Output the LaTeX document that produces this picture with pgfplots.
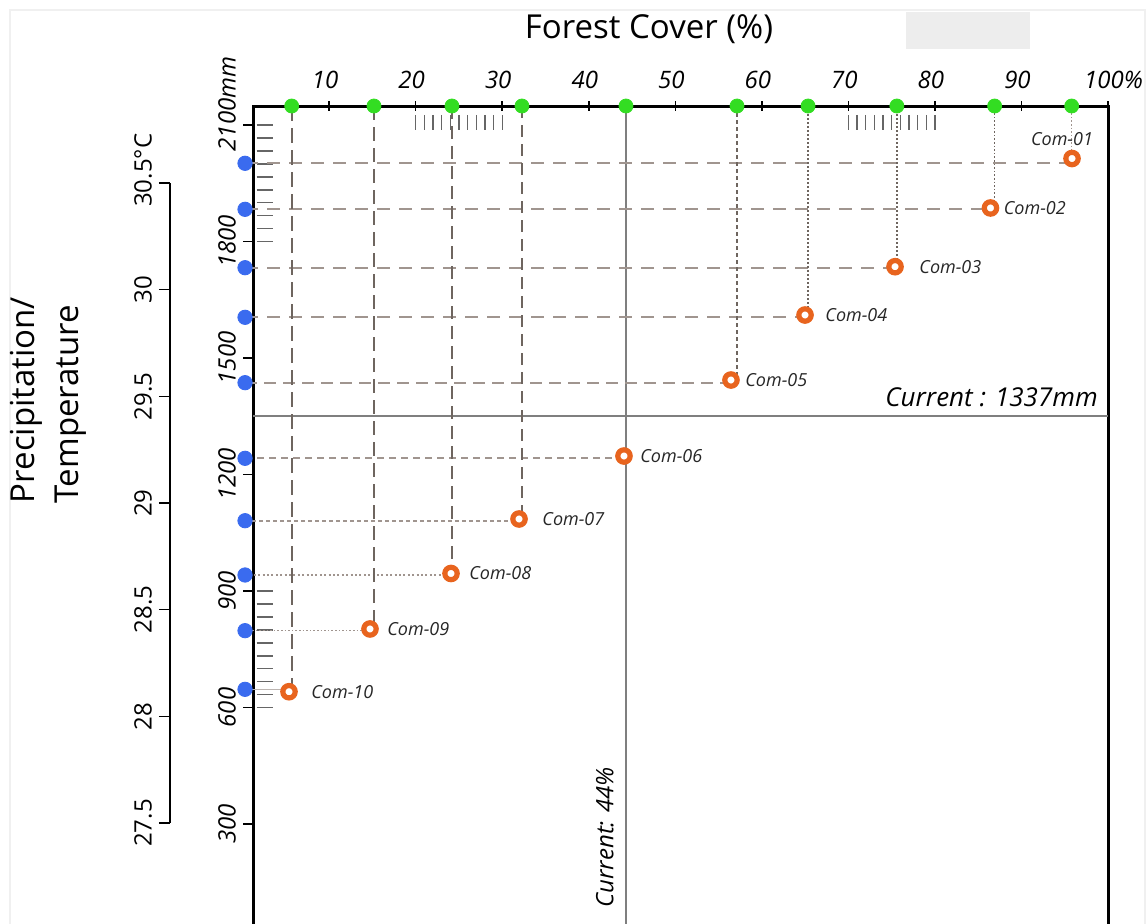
\documentclass[border=0pt]{standalone}
\usepackage{pgfplots}
\pgfplotsset{compat=1.18}
\usepackage{fontspec}
\setmainfont{Open Sans}
\definecolor{cgreen}{HTML}{33DD22}
\definecolor{cblue}{HTML}{3A6BEF}
\definecolor{corange}{HTML}{E8641E}
\definecolor{hgray}{HTML}{A0958F}
\definecolor{vgray}{HTML}{6E655F}
\definecolor{cgray}{HTML}{7F7F7F}
\definecolor{hashgray}{HTML}{666666}

\begin{document}
\begin{tikzpicture}
% faint outer frame and grey patch
\draw[gray!12, line width=0.6pt] (5pt,-480pt) -- (5pt,-5pt) -- (572.5pt,-5pt) -- (572.5pt,-480pt);
\fill[gray!14] (453pt,-6pt) rectangle (515pt,-24.5pt);
\node[font=\fontsize{16.5}{19}\selectfont] at (324.5pt,-14.5pt) {Forest Cover (\%)};
\node[rotate=90, align=left, font=\fontsize{16.5}{22}\selectfont] at (24pt,-200pt) {Precipitation/\\Temperature};

% temperature axis
\begin{axis}[
  at={(85pt,-91.5pt)}, anchor=north west,
  scale only axis, width=10pt, height=320pt,
  xmin=0, xmax=1, ymin=27.5, ymax=30.5,
  hide x axis, axis y line=left, axis line style={-, line width=0.8pt},
  ytick={27.5,28,28.5,29,29.5,30,30.5},
  yticklabels={27.5,28,28.5,29,29.5,30,30.5\rlap{°C}},
  tick align=outside, major tick length=5.5pt,
  tick style={black, line width=0.8pt},
  yticklabel style={rotate=90, anchor=south, font=\fontsize{12}{14}\selectfont},
]
\addplot[draw=none] coordinates {(0,28)};
\end{axis}

% main axis
\begin{axis}[
  at={(126.5pt,-53pt)}, anchor=north west,
  scale only axis, width=427.5pt, height=412pt,
  xmin=1.2, xmax=100, ymin=27, ymax=2148.9,
  clip=false,
  axis line style={line width=1.5pt, black},
  xtick={10,20,...,100},
  xticklabels={10,20,30,40,50,60,70,80,90,100\rlap{\%}},
  xtick pos=right, xticklabel pos=right,
  ytick={300,600,...,2100},
  yticklabels={300,600,900,1200,1500,1800,2100\rlap{mm}},
  ytick pos=left, yticklabel pos=left,
  tick align=outside, major tick length=5pt,
  tick style={black, line width=0.8pt},
  xtick style={yshift=-2.5pt},
  xticklabel style={font=\itshape\fontsize{12}{14}\selectfont, xshift=-2pt},
  yticklabel style={rotate=90, anchor=south, font=\itshape\fontsize{12}{14}\selectfont},
]
% decorative hash marks
\pgfplotsinvokeforeach{20,...,30}{\addplot[hashgray, line width=0.6pt] coordinates {(#1,2125.75) (#1,2087.1)};}
\pgfplotsinvokeforeach{70,...,80}{\addplot[hashgray, line width=0.6pt] coordinates {(#1,2125.75) (#1,2087.1)};}
\pgfplotsinvokeforeach{2100,2066.7,2033.3,2000,1966.7,1933.3,1900,1866.7,1833.3,1800,900,866.7,833.3,800,766.7,733.3,700,666.7,633.3,600}{\addplot[hashgray, line width=0.8pt] coordinates {(1.63,#1) (3.51,#1)};}

% current lines
\addplot[cgray, line width=0.8pt] coordinates {(44.3,27) (44.3,2148.9)};
\addplot[cgray, line width=0.8pt] coordinates {(1.2,1351.4) (100,1351.4)};

% horizontal guide lines (blue dot -> community)
\addplot[hgray, line width=0.9pt, dash pattern=on 6.5pt off 4.5pt] coordinates {(0.28,2001.4) (95.84,2001.4)};
\addplot[hgray, line width=0.9pt, dash pattern=on 6.5pt off 4.5pt] coordinates {(0.28,1882.9) (86.42,1882.9)};
\addplot[hgray, line width=0.9pt, dash pattern=on 6.5pt off 4.5pt] coordinates {(0.28,1732.5) (75.39,1732.5)};
\addplot[hgray, line width=0.9pt, dash pattern=on 6.5pt off 4.5pt] coordinates {(0.28,1604.8) (64.99,1604.8)};
\addplot[hgray, line width=0.9pt, dash pattern=on 6pt off 3.5pt] coordinates {(0.28,1436.4) (56.43,1436.4)};
\addplot[hgray, line width=0.85pt, dash pattern=on 3.5pt off 2.5pt] coordinates {(0.28,1241.7) (44.07,1241.7)};
\addplot[hgray, line width=0.8pt, dash pattern=on 2pt off 1.5pt] coordinates {(0.28,1081) (31.94,1081)};
\addplot[hgray, line width=0.8pt, dash pattern=on 1pt off 1.2pt] coordinates {(0.28,941.2) (24.08,941.2)};
\addplot[hgray, line width=0.75pt, dash pattern=on 0.8pt off 1pt] coordinates {(0.28,797.8) (14.72,797.8)};
\addplot[hgray!70, line width=0.75pt] coordinates {(0.28,646.8) (5.36,646.8)};

% vertical guide lines (green dot -> community)
\addplot[hgray, line width=0.8pt, dash pattern=on 0.8pt off 1pt] coordinates {(95.8,2148.9) (95.8,2013.7)};
\addplot[vgray, line width=0.8pt, dash pattern=on 0.8pt off 1pt] coordinates {(86.9,2148.9) (86.9,1886.3)};
\addplot[vgray, line width=0.8pt, dash pattern=on 1pt off 1pt] coordinates {(75.6,2148.9) (75.6,1735.1)};
\addplot[vgray, line width=0.8pt, dash pattern=on 1pt off 1pt] coordinates {(65.34,2148.9) (65.34,1610.7)};
\addplot[vgray, line width=0.8pt, dash pattern=on 2pt off 1.5pt] coordinates {(57.13,2148.9) (57.13,1443.3)};
\addplot[vgray, line width=0.9pt, dash pattern=on 6pt off 3.5pt] coordinates {(32.28,2148.9) (32.28,1085.4)};
\addplot[vgray, line width=0.9pt, dash pattern=on 6.5pt off 3.5pt] coordinates {(24.19,2148.9) (24.19,945.1)};
\addplot[vgray, line width=0.9pt, dash pattern=on 7pt off 3.5pt] coordinates {(15.18,2148.9) (15.18,802.2)};
\addplot[vgray, line width=0.9pt, dash pattern=on 7.5pt off 3.5pt] coordinates {(5.67,2148.9) (5.67,640.6)};

% green dots: forest cover
\addplot[only marks, mark=*, mark size=3.5pt, cgreen, mark options={draw=none, fill=cgreen}] coordinates {
(5.67,2148.9) (15.18,2148.9) (24.19,2148.9) (32.28,2148.9) (44.3,2148.9)
(57.13,2148.9) (65.34,2148.9) (75.6,2148.9) (86.9,2148.9) (95.8,2148.9)};
% blue dots: precipitation
\addplot[only marks, mark=*, mark size=3.6pt, cblue, mark options={draw=none, fill=cblue}] coordinates {
(0.28,2001.4) (0.28,1882.9) (0.28,1732.5) (0.28,1604.8) (0.28,1436.4)
(0.28,1241.7) (0.28,1081) (0.28,941.2) (0.28,797.8) (0.28,646.8)};
% orange rings: communities
\addplot[only marks, mark=*, mark size=3.1pt, mark options={draw=corange, fill=white, line width=2.6pt}] coordinates {
(95.84,2013.7) (86.42,1886.3) (75.39,1735.1) (64.99,1610.7) (56.43,1443.3)
(44.07,1247.6) (31.94,1085.4) (24.08,945.1) (14.72,802.2) (5.36,640.6)};

% labels
\begin{scope}[every node/.style={font=\itshape\fontsize{9}{11}\selectfont, inner sep=0pt, text=black!85}]
\node[anchor=south, xshift=-5pt, yshift=6pt] at (axis cs:95.84,2013.7) {Com-01};
\node[anchor=west, xshift=6.5pt] at (axis cs:86.42,1886.3) {Com-02};
\node[anchor=west, xshift=12pt] at (axis cs:75.39,1735.1) {Com-03};
\node[anchor=west, xshift=10pt] at (axis cs:64.99,1610.7) {Com-04};
\node[anchor=west, xshift=7pt] at (axis cs:56.43,1443.3) {Com-05};
\node[anchor=west, xshift=8pt] at (axis cs:44.07,1247.6) {Com-06};
\node[anchor=west, xshift=11.5pt] at (axis cs:31.94,1085.4) {Com-07};
\node[anchor=west, xshift=9pt] at (axis cs:24.08,945.1) {Com-08};
\node[anchor=west, xshift=8.5pt] at (axis cs:14.72,802.2) {Com-09};
\node[anchor=west, xshift=11pt] at (axis cs:5.36,640.6) {Com-10};
\end{scope}
\node[anchor=base east, font=\itshape\fontsize{13}{15}\selectfont, inner sep=0pt] at (axis cs:98.85,1376) {Current : 1337mm};
\node[rotate=90, anchor=base west, font=\itshape\fontsize{12}{14}\selectfont, inner sep=0pt] at (axis cs:42.85,83.7) {Current: 44\%};
\end{axis}

\pgfresetboundingbox
\path[use as bounding box] (0pt,0pt) rectangle (574pt,-461.5pt);
\end{tikzpicture}
\end{document}
